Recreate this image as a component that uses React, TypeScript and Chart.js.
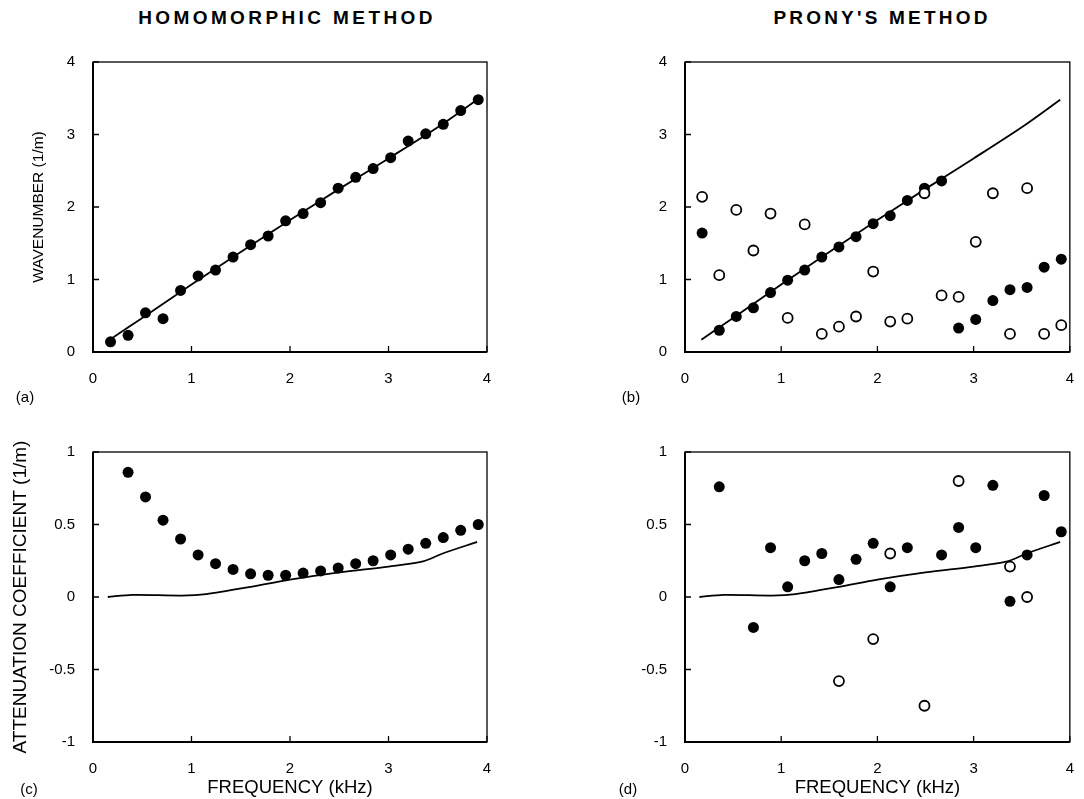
import React, { useEffect, useRef } from "react";
import { Chart, registerables } from "chart.js";

Chart.register(...registerables);

const FONT = "'Liberation Sans', Arial, Helvetica, sans-serif";

// Frequencies (kHz) of the analysed components
const FREQ = [0.178, 0.356, 0.533, 0.711, 0.889, 1.067, 1.244, 1.422, 1.6, 1.778, 1.956, 2.133, 2.311, 2.489, 2.667, 2.844, 3.022, 3.2, 3.378, 3.556, 3.733, 3.911];

// Theoretical curves (solid lines)
const THEORY_K_FREQ = [0.17, 0.5, 1.0, 1.5, 2.0, 2.5, 3.0, 3.5, 3.9];
const THEORY_K = [0.17, 0.47, 0.93, 1.38, 1.82, 2.25, 2.67, 3.1, 3.48];
const THEORY_A_FREQ = [0.15, 0.4, 0.9, 1.15, 1.6, 2.0, 2.5, 3.0, 3.35, 3.55, 3.9];
const THEORY_A = [0.0, 0.015, 0.01, 0.02, 0.07, 0.12, 0.17, 0.21, 0.245, 0.3, 0.38];

// (a) homomorphic wavenumber
const HOMO_K = [0.14, 0.23, 0.54, 0.46, 0.85, 1.05, 1.13, 1.31, 1.48, 1.6, 1.81, 1.91, 2.06, 2.26, 2.41, 2.53, 2.68, 2.91, 3.01, 3.14, 3.33, 3.48];

// (b) Prony wavenumber
const PRONY_K_FILLED = [1.64, 0.3, 0.49, 0.61, 0.82, 0.99, 1.13, 1.31, 1.45, 1.59, 1.77, 1.88, 2.09, 2.26, 2.36, 0.33, 0.45, 0.71, 0.86, 0.89, 1.17, 1.28];
const PRONY_K_OPEN = [2.14, 1.06, 1.96, 1.4, 1.91, 0.47, 1.76, 0.25, 0.35, 0.49, 1.11, 0.42, 0.46, 2.19, 0.78, 0.76, 1.52, 2.19, 0.25, 2.26, 0.25, 0.37];

// (c) homomorphic attenuation
const HOMO_A_FREQ = [0.356, 0.533, 0.711, 0.889, 1.067, 1.244, 1.422, 1.6, 1.778, 1.956, 2.133, 2.311, 2.489, 2.667, 2.844, 3.022, 3.2, 3.378, 3.556, 3.733, 3.911];
const HOMO_A = [0.86, 0.69, 0.53, 0.4, 0.29, 0.23, 0.19, 0.16, 0.15, 0.15, 0.165, 0.18, 0.2, 0.23, 0.25, 0.29, 0.33, 0.37, 0.41, 0.46, 0.5];

// (d) Prony attenuation
const PRONY_A_FILLED_FREQ = [0.356, 0.711, 0.889, 1.067, 1.244, 1.422, 1.6, 1.778, 1.956, 2.133, 2.311, 2.667, 2.844, 3.022, 3.2, 3.378, 3.556, 3.733, 3.911];
const PRONY_A_FILLED = [0.76, -0.21, 0.34, 0.07, 0.25, 0.3, 0.12, 0.26, 0.37, 0.07, 0.34, 0.29, 0.48, 0.34, 0.77, -0.03, 0.29, 0.7, 0.45];
const PRONY_A_OPEN_FREQ = [1.6, 1.956, 2.133, 2.489, 2.844, 3.378, 3.556];
const PRONY_A_OPEN = [-0.58, -0.29, 0.3, -0.75, 0.8, 0.21, 0.0];

// Tick values / labels
const FREQ_TICKS = [0, 1, 2, 3, 4];
const FREQ_TICK_LABELS = ["0", "1", "2", "3", "4"];
const K_TICKS = [0, 1, 2, 3, 4];
const K_TICK_LABELS = ["0", "1", "2", "3", "4"];
const A_TICKS = [-1, -0.5, 0, 0.5, 1];
const A_TICK_LABELS = ["-1", "-0.5", "0", "0.5", "1"];

const zip = (xs: number[], ys: number[]) => xs.map((x, i) => ({ x, y: ys[i] }));

const boxTicks = {
  id: "boxTicks",
  afterDatasetsDraw(chart: any) {
    const { ctx, chartArea: a, scales } = chart;
    ctx.save();
    ctx.strokeStyle = "#000";
    ctx.lineWidth = 1.3;
    ctx.strokeRect(a.left, a.top, a.right - a.left, a.bottom - a.top);
    ctx.lineWidth = 2;
    ctx.beginPath();
    ctx.moveTo(a.left, a.top);
    ctx.lineTo(a.left, a.bottom);
    ctx.lineTo(a.right, a.bottom);
    ctx.stroke();
    ctx.lineWidth = 1.3;
    ctx.beginPath();
    scales.x.ticks.forEach((t: any) => {
      const px = scales.x.getPixelForValue(t.value);
      ctx.moveTo(px, a.bottom);
      ctx.lineTo(px, a.bottom - 6);
    });
    scales.y.ticks.forEach((t: any) => {
      const py = scales.y.getPixelForValue(t.value);
      ctx.moveTo(a.left, py);
      ctx.lineTo(a.left + 6, py);
    });
    ctx.stroke();
    ctx.restore();
  },
};

type PanelSpec = {
  left: number;
  top: number;
  w: number;
  h: number;
  padding: { left: number; top: number; right: number; bottom: number };
  yWidth: number;
  xHeight: number;
  yTicks: number[];
  yLabels: string[];
  yMin: number;
  yMax: number;
  yTitle?: string;
  yTitleSize?: number;
  xTitle?: string;
  datasets: any[];
};

const filled = (data: any[]) => ({
  data,
  pointRadius: 5.5,
  pointBackgroundColor: "#000",
  pointBorderColor: "#000",
  pointBorderWidth: 0,
  showLine: false,
});
const open = (data: any[]) => ({
  data,
  pointRadius: 5,
  pointBackgroundColor: "#fff",
  pointBorderColor: "#000",
  pointBorderWidth: 1.8,
  showLine: false,
});
const curve = (data: any[]) => ({
  data,
  pointRadius: 0,
  borderColor: "#000",
  borderWidth: 1.8,
  showLine: true,
  tension: 0.3,
  fill: false,
});

function Panel({ spec }: { spec: PanelSpec }) {
  const ref = useRef<HTMLCanvasElement>(null);
  useEffect(() => {
    if (!ref.current) return;
    const chart = new Chart(ref.current, {
      type: "scatter",
      data: { datasets: spec.datasets },
      plugins: [boxTicks],
      options: {
        animation: false,
        responsive: false,
        devicePixelRatio: 1,
        layout: { padding: spec.padding },
        plugins: { legend: { display: false }, tooltip: { enabled: false } },
        scales: {
          x: {
            type: "linear",
            min: 0,
            max: 4,
            afterBuildTicks: (s: any) => {
              s.ticks = FREQ_TICKS.map((v) => ({ value: v }));
            },
            afterFit: (s: any) => {
              s.height = spec.xHeight;
            },
            grid: { display: false },
            border: { display: false },
            ticks: {
              padding: 10,
              color: "#000",
              font: { family: FONT, size: 15 },
              maxRotation: 0,
              autoSkip: false,
              callback: (_v: any, i: number) => FREQ_TICK_LABELS[i],
            },
            title: spec.xTitle
              ? { display: true, text: spec.xTitle, color: "#000", font: { family: FONT, size: 18.5 }, padding: 0 }
              : { display: false },
          },
          y: {
            type: "linear",
            min: spec.yMin,
            max: spec.yMax,
            afterBuildTicks: (s: any) => {
              s.ticks = spec.yTicks.map((v) => ({ value: v }));
            },
            afterFit: (s: any) => {
              s.width = spec.yWidth;
            },
            grid: { display: false },
            border: { display: false },
            ticks: {
              padding: 10,
              color: "#000",
              font: { family: FONT, size: 15 },
              autoSkip: false,
              callback: (_v: any, i: number) => spec.yLabels[i],
            },
            title: spec.yTitle
              ? { display: true, text: spec.yTitle, color: "#000", font: { family: FONT, size: spec.yTitleSize || 15 }, padding: 0 }
              : { display: false },
          },
        },
      } as any,
    });
    return () => chart.destroy();
  }, []);
  return (
    <canvas
      ref={ref}
      width={spec.w}
      height={spec.h}
      style={{ position: "absolute", left: spec.left, top: spec.top, width: spec.w, height: spec.h, display: "block" }}
    />
  );
}

const panels: PanelSpec[] = [
  {
    left: 0, top: 40, w: 540, h: 352,
    padding: { left: 29, top: 22, right: 53, bottom: 0 },
    yWidth: 64, xHeight: 40,
    yTicks: K_TICKS, yLabels: K_TICK_LABELS, yMin: 0, yMax: 4,
    yTitle: "WAVENUMBER (1/m)", yTitleSize: 15.5,
    datasets: [filled(zip(FREQ, HOMO_K)), curve(zip(THEORY_K_FREQ, THEORY_K))],
  },
  {
    left: 560, top: 40, w: 524, h: 352,
    padding: { left: 60, top: 22, right: 7, bottom: 0 },
    yWidth: 65, xHeight: 40,
    yTicks: K_TICKS, yLabels: K_TICK_LABELS, yMin: 0, yMax: 4,
    datasets: [open(zip(FREQ, PRONY_K_OPEN)), filled(zip(FREQ, PRONY_K_FILLED)), curve(zip(THEORY_K_FREQ, THEORY_K))],
  },
  {
    left: 0, top: 420, w: 540, h: 379,
    padding: { left: 9, top: 32, right: 53, bottom: 0 },
    yWidth: 84, xHeight: 57,
    yTicks: A_TICKS, yLabels: A_TICK_LABELS, yMin: -1, yMax: 1,
    yTitle: "ATTENUATION COEFFICIENT (1/m)", yTitleSize: 19,
    xTitle: "FREQUENCY (kHz)",
    datasets: [filled(zip(HOMO_A_FREQ, HOMO_A)), curve(zip(THEORY_A_FREQ, THEORY_A))],
  },
  {
    left: 560, top: 420, w: 524, h: 379,
    padding: { left: 60, top: 32, right: 7, bottom: 0 },
    yWidth: 65, xHeight: 57,
    yTicks: A_TICKS, yLabels: A_TICK_LABELS, yMin: -1, yMax: 1,
    xTitle: "FREQUENCY (kHz)",
    datasets: [
      open(zip(PRONY_A_OPEN_FREQ, PRONY_A_OPEN)),
      filled(zip(PRONY_A_FILLED_FREQ, PRONY_A_FILLED)),
      curve(zip(THEORY_A_FREQ, THEORY_A)),
    ],
  },
];

const textStyle = (x: number, y: number, size: number, extra: any = {}) => ({
  position: "absolute" as const,
  left: x,
  top: y,
  transform: "translate(-50%, -50%)",
  fontFamily: FONT,
  fontSize: size,
  color: "#000",
  whiteSpace: "nowrap" as const,
  lineHeight: 1,
  ...extra,
});

export default function App() {
  return (
    <div style={{ position: "fixed", left: 0, top: 0, width: 1084, height: 799, background: "#fff", overflow: "hidden" }}>
      <div style={textStyle(287, 17, 19, { letterSpacing: "3.4px", fontWeight: "bold" })}>HOMOMORPHIC METHOD</div>
      <div style={textStyle(882, 17, 19, { letterSpacing: "3.2px", fontWeight: "bold" })}>PRONY'S METHOD</div>
      {panels.map((p, i) => (
        <Panel key={i} spec={p} />
      ))}
      <div style={textStyle(25, 396, 15)}>(a)</div>
      <div style={textStyle(631, 396, 15)}>(b)</div>
      <div style={textStyle(29, 788, 15)}>(c)</div>
      <div style={textStyle(628, 788, 15)}>(d)</div>
    </div>
  );
}
